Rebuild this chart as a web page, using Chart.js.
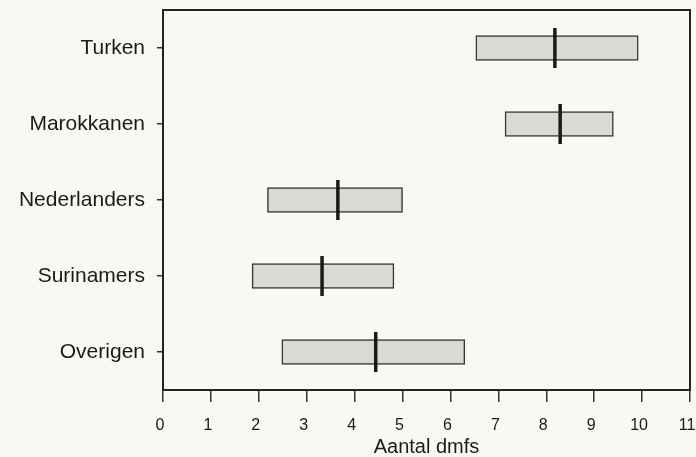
<!DOCTYPE html>
<html>
<head>
<meta charset="utf-8">
<script src="https://cdn.jsdelivr.net/npm/chart.js@4.4.1/dist/chart.umd.min.js"></script>
<style>
  html, body { margin: 0; padding: 0; background: #f8f8f4; }
  #wrap { width: 696px; height: 457px; }
</style>
</head>
<body>
<div id="wrap"><canvas id="c" width="696" height="457"></canvas></div>
<script>
const categories = ['Turken', 'Marokkanen', 'Nederlanders', 'Surinamers', 'Overigen'];
const lowValues = [6.53, 7.14, 2.18, 1.86, 2.48];
const highValues = [9.92, 9.40, 5.00, 4.82, 6.30];
const medianValues = [8.18, 8.29, 3.65, 3.32, 4.44];
const xTickValues = [0, 1, 2, 3, 4, 5, 6, 7, 8, 9, 10, 11];
const xTitle = 'Aantal dmfs';

const FONT = "'Liberation Sans', Arial, Helvetica, sans-serif";

const bgPlugin = {
  id: 'bg',
  beforeDraw(chart) {
    const ctx = chart.ctx;
    ctx.save();
    ctx.fillStyle = '#f8f8f4';
    ctx.fillRect(0, 0, chart.width, chart.height);
    ctx.restore();
  }
};
const framePlugin = {
  id: 'frame',
  beforeDatasetsDraw(chart) {
    const a = chart.chartArea, ctx = chart.ctx;
    ctx.save();
    ctx.strokeStyle = '#222';
    ctx.lineWidth = 2;
    ctx.strokeRect(a.left, a.top, a.right - a.left, a.bottom - a.top);
    ctx.restore();
  }
};

new Chart(document.getElementById('c'), {
  type: 'bar',
  data: {
    labels: categories,
    datasets: [
      {
        type: 'line',
        indexAxis: 'y',
        data: categories.map((c, i) => ({ x: medianValues[i], y: c })),
        showLine: false,
        pointStyle: 'line',
        rotation: 90,
        radius: 20,
        hoverRadius: 20,
        borderColor: '#1a1a1a',
        borderWidth: 3.5,
        clip: false,
        order: 0
      },
      {
        data: categories.map((c, i) => [lowValues[i], highValues[i]]),
        backgroundColor: '#dadad5',
        borderColor: '#363636',
        borderWidth: 1.5,
        borderSkipped: false,
        barThickness: 25,
        order: 1
      }
    ]
  },
  options: {
    indexAxis: 'y',
    responsive: false,
    animation: false,
    layout: { autoPadding: false, padding: { top: 10, right: 6, left: 0, bottom: 0 } },
    plugins: { legend: { display: false }, tooltip: { enabled: false } },
    scales: {
      x: {
        type: 'linear',
        min: 0,
        max: 11,
        afterBuildTicks(scale) { scale.ticks = xTickValues.map(v => ({ value: v })); },
        afterFit(scale) { scale.height = 67; scale.paddingLeft = 0; scale.paddingRight = 0; },
        border: { display: false },
        grid: { drawOnChartArea: false, drawTicks: true, tickLength: 12, color: '#333', lineWidth: 1.5 },
        ticks: { color: '#1a1a1a', font: { family: FONT, size: 16 }, padding: 14, maxRotation: 0, labelOffset: -3 },
        title: { display: true, text: xTitle, color: '#1a1a1a', font: { family: FONT, size: 20, lineHeight: 1 }, padding: 0 }
      },
      y: {
        type: 'category',
        afterFit(scale) { scale.width = 163; scale.paddingTop = 0; scale.paddingBottom = 0; },
        border: { display: false },
        grid: { drawOnChartArea: false, drawTicks: true, tickLength: 6, color: '#333', lineWidth: 1.5, offset: false },
        ticks: { color: '#1a1a1a', font: { family: FONT, size: 21 }, padding: 12 }
      }
    }
  },
  plugins: [bgPlugin, framePlugin]
});
</script>
</body>
</html>
